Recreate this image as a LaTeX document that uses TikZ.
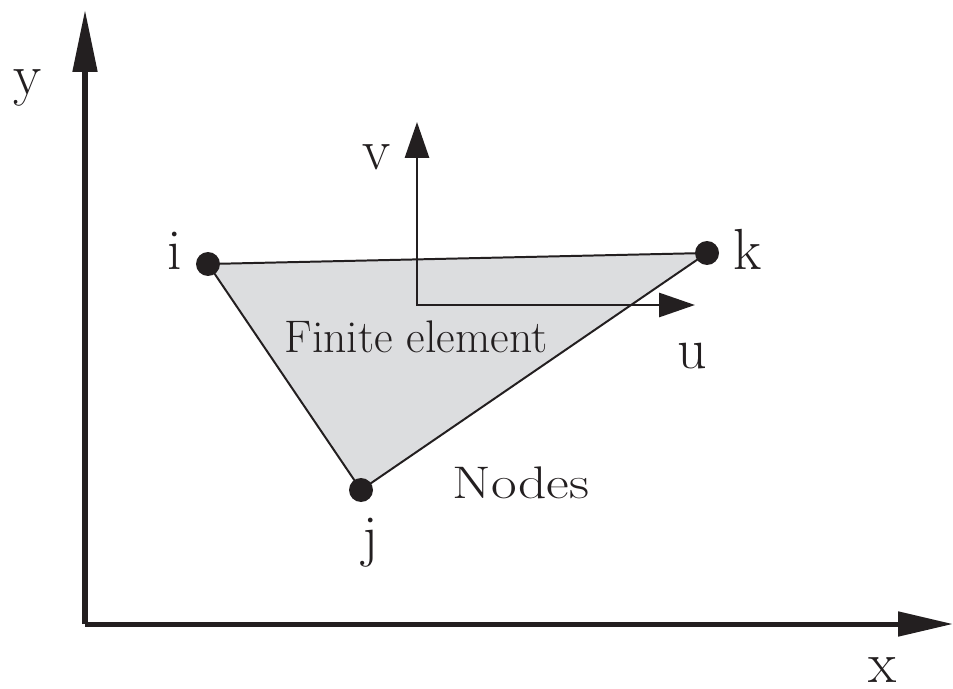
\documentclass[tikz,border=0pt]{standalone}
\usepackage{fontspec}
\usepackage{xcolor}
\usetikzlibrary{arrows.meta}
\definecolor{ink}{HTML}{231F20}
\definecolor{elemgray}{HTML}{DCDDDF}

\begin{document}
\begin{tikzpicture}[x=0.02cm, y=-0.02cm, ink,
    dot/.style={circle, fill=ink, inner sep=0pt, minimum size=0.48cm},
    letter/.style={anchor=base, inner sep=0pt, font=\fontsize{33}{38}\selectfont},
    caption/.style={anchor=base, inner sep=0pt, font=\fontsize{26}{31}\selectfont}]
        \useasboundingbox (0,0) rectangle (953,689);

        % Global axes
        \coordinate (o) at (85,624);
        \coordinate (ytip) at (85,10);
        \coordinate (xtip) at (953,624);
        \draw[line width=2.85pt, -{Triangle[length=1.24cm, width=0.48cm]}] (o) -- (ytip);
        \draw[line width=2.85pt, -{Triangle[length=1.1cm, width=0.48cm]}] (o) -- (xtip);
        \node[letter] (ylab) at (28,95)  {y};
        \node[letter] (xlab) at (883,682) {x};

        % Element corners
        \coordinate (pi) at (208,264);
        \coordinate (pk) at (707,253);
        \coordinate (pj) at (361,490);

        % Element
        \filldraw[fill=elemgray, line width=1.13pt] (pi) -- (pk) -- (pj) -- cycle;
        \node[caption] (elem) at (416,352) {Finite element};

        % Local axes
        \coordinate (c) at (417,305);
        \coordinate (vtip) at (417,122);
        \coordinate (utip) at (695,305);
        \draw[line width=1.7pt, {Triangle[length=0.72cm, width=0.48cm]}-{Triangle[length=0.72cm, width=0.48cm]}]
            (vtip) -- (c) -- (utip);
        \node[letter] (vlab) at (377,170) {v};
        \node[letter] (ulab) at (692,368) {u};

        % Nodes
        \node[dot] (i) at (pi) {};
        \node[dot] (k) at (pk) {};
        \node[dot] (j) at (pj) {};
        \node[letter] (ilab) at (175,270) {i};
        \node[letter] (klab) at (748,270) {k};
        \node[letter] (jlab) at (370,555) {j};
        \node[caption] (nodes) at (521,498) {\scalebox{1.22}[1]{Nodes}};
    \end{tikzpicture}
\end{document}
